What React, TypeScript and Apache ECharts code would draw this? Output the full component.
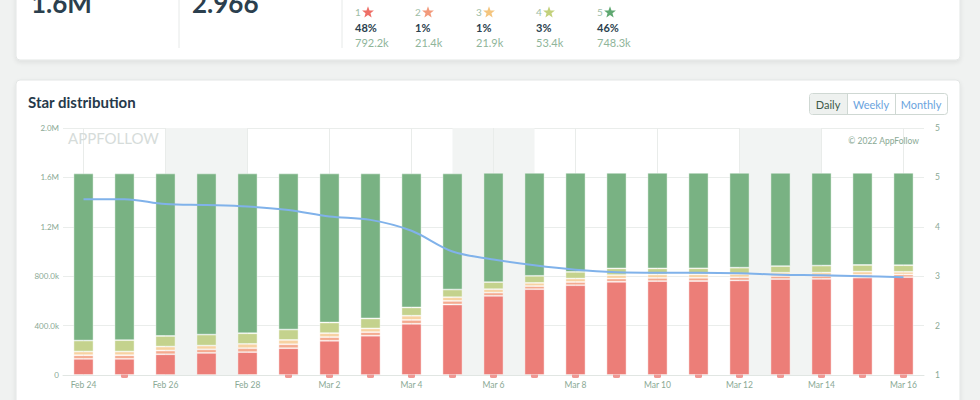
import React, { useEffect, useRef } from "react";
import * as echarts from "echarts";

const categories = [
  "Feb 24", "Feb 25", "Feb 26", "Feb 27", "Feb 28", "Mar 1", "Mar 2", "Mar 3", "Mar 4", "Mar 5", "Mar 6",
  "Mar 7", "Mar 8", "Mar 9", "Mar 10", "Mar 11", "Mar 12", "Mar 13", "Mar 14", "Mar 15", "Mar 16",
];
// values in thousands of ratings
const star1 = [131, 131, 168, 179, 185, 217, 277, 318, 415, 571, 641, 695, 727, 755, 760, 761, 766, 777, 778, 788, 792.2];
const star2 = [29, 29, 30, 29, 32, 32, 30, 29, 31, 29, 26, 25, 26, 26, 26, 26, 25, 24, 24, 23, 21.4];
const star3 = [30, 30, 32, 30, 35, 35, 32, 30, 34, 30, 28, 26, 28, 28, 28, 28, 27, 27, 27, 26, 21.9];
const star4 = [89, 92, 86, 89, 86, 84, 86, 81, 67, 62, 57, 57, 54, 54, 49, 49, 51, 54, 57, 54, 53.4];
const star5 = [1353, 1350, 1316, 1305, 1294, 1264, 1207, 1174, 1085, 940, 885, 834, 802, 774, 774, 773, 768, 755, 751, 746, 748.3];
const avgRating = [4.56, 4.56, 4.46, 4.44, 4.41, 4.34, 4.21, 4.14, 3.92, 3.5, 3.34, 3.22, 3.13, 3.08, 3.07, 3.07, 3.06, 3.03, 3.02, 3.0, 2.98];

const weekendBands = [["Feb 26", "Feb 28"], ["Mar 5", "Mar 7"], ["Mar 12", "Mar 14"]];
const tabDays = ["Feb 25", "Mar 1", "Mar 2", "Mar 3", "Mar 4", "Mar 5", "Mar 6", "Mar 7", "Mar 8", "Mar 9", "Mar 10",
  "Mar 11", "Mar 12", "Mar 13", "Mar 14", "Mar 15", "Mar 16"];

const leftTickLabels = ["0", "400.0k", "800.0k", "1.2M", "1.6M", "2.0M"];
const rightTickLabels = ["1", "2", "3", "4", "5", "5"];

const totalText = "1.6M";
const ratingText = "2.966";
const starNames = ["1", "2", "3", "4", "5"];
const starPercents = ["48%", "1%", "1%", "3%", "46%"];
const starCounts = ["792.2k", "21.4k", "21.9k", "53.4k", "748.3k"];
const periodButtons = ["Daily", "Weekly", "Monthly"];

const seriesColors = ["#ec7e78", "#f4aa8f", "#f7d2a2", "#c4d28d", "#79b283"];
const starIconColors = ["#ee6f67", "#f29a7c", "#f4c57f", "#c3d17c", "#5fa871"];
const FONT = "Lato, 'Noto Sans', sans-serif";
const AXIS_COLOR = "#8aa995";

function starPoints(cx: number, cy: number, R: number, r: number) {
  const pts: number[][] = [];
  for (let i = 0; i < 10; i++) {
    const a = -Math.PI / 2 + (i * Math.PI) / 5;
    const rad = i % 2 === 0 ? R : r;
    pts.push([cx + rad * Math.cos(a), cy + rad * Math.sin(a)]);
  }
  return pts;
}

export default function App() {
  const ref = useRef<HTMLDivElement>(null);

  useEffect(() => {
    if (!ref.current) return;
    const chart = echarts.init(ref.current, null, { renderer: "svg" });

    const starColX = [355, 415, 476, 536, 597];
    const graphics: any[] = [
      {
        type: "rect", z: -10, silent: true,
        shape: { x: 16, y: -10, width: 944, height: 70, r: 4 },
        style: { fill: "#ffffff", stroke: "#e3e6e5", lineWidth: 1, shadowBlur: 4, shadowOffsetY: 2, shadowColor: "rgba(0,0,0,0.08)" },
      },
      {
        type: "rect", z: -10, silent: true,
        shape: { x: 16, y: 80, width: 944, height: 340, r: 4 },
        style: { fill: "#ffffff", stroke: "#e3e6e5", lineWidth: 1, shadowBlur: 4, shadowOffsetY: 2, shadowColor: "rgba(0,0,0,0.08)" },
      },
      { type: "line", z: -5, shape: { x1: 179, y1: 0, x2: 179, y2: 48 }, style: { stroke: "#e6e9e8", lineWidth: 1 } },
      { type: "line", z: -5, shape: { x1: 342, y1: 0, x2: 342, y2: 48 }, style: { stroke: "#e6e9e8", lineWidth: 1 } },
      {
        type: "text", z: 10, x: 31, y: 3,
        style: { text: totalText, fontFamily: FONT, fontSize: 26, fontWeight: "bold", fill: "#2b3f4e", verticalAlign: "middle" },
      },
      {
        type: "text", z: 10, x: 192, y: 3,
        style: { text: ratingText, fontFamily: FONT, fontSize: 26, fontWeight: "bold", fill: "#2b3f4e", verticalAlign: "middle" },
      },
      {
        type: "text", z: 10, x: 28, y: 102,
        style: { text: "Star distribution", fontFamily: FONT, fontSize: 15, fontWeight: "bold", fill: "#26394a", verticalAlign: "middle" },
      },
      {
        type: "text", z: 3, x: 68, y: 138,
        style: { text: "APPFOLLOW", fontFamily: FONT, fontSize: 15, fill: "#d6dcda", verticalAlign: "middle" },
      },
      {
        type: "text", z: 3, x: 919, y: 141,
        style: { text: "© 2022 AppFollow", fontFamily: FONT, fontSize: 8.5, fill: AXIS_COLOR, align: "right", verticalAlign: "middle" },
      },
      // period buttons
      {
        type: "rect", z: 5, shape: { x: 809.5, y: 93.5, width: 138, height: 21, r: 3 },
        style: { fill: "#ffffff", stroke: "#cfd8d3", lineWidth: 1 },
      },
      {
        type: "rect", z: 6, shape: { x: 810, y: 94, width: 37, height: 20, r: [3, 0, 0, 3] },
        style: { fill: "#eef1ef" },
      },
      { type: "line", z: 7, shape: { x1: 847.5, y1: 94, x2: 847.5, y2: 114 }, style: { stroke: "#cfd8d3", lineWidth: 1 } },
      { type: "line", z: 7, shape: { x1: 895.5, y1: 94, x2: 895.5, y2: 114 }, style: { stroke: "#cfd8d3", lineWidth: 1 } },
    ];
    const btnCenters = [828, 871, 921];
    periodButtons.forEach((b, i) => {
      graphics.push({
        type: "text", z: 8, x: btnCenters[i], y: 104,
        style: { text: b, fontFamily: FONT, fontSize: 11, fill: i === 0 ? "#3e5a49" : "#6aa4de", align: "center", verticalAlign: "middle" },
      });
    });
    starNames.forEach((s, i) => {
      const x = starColX[i];
      graphics.push({
        type: "text", z: 10, x, y: 12,
        style: { text: s, fontFamily: FONT, fontSize: 10, fill: "#9dbda6", verticalAlign: "middle" },
      });
      graphics.push({
        type: "polygon", z: 10,
        shape: { points: starPoints(x + 13, 12.5, 6.2, 2.6) },
        style: { fill: starIconColors[i] },
      });
      graphics.push({
        type: "text", z: 10, x, y: 27,
        style: { text: starPercents[i], fontFamily: FONT, fontSize: 11, fontWeight: "bold", fill: "#2b3f4e", verticalAlign: "middle" },
      });
      graphics.push({
        type: "text", z: 10, x, y: 42,
        style: { text: starCounts[i], fontFamily: FONT, fontSize: 11, fill: "#8fb59a", verticalAlign: "middle" },
      });
    });

    const starSeries = [star1, star2, star3, star4, star5];
    const barSeries = starSeries.map((d, i) => ({
      name: `${i + 1} star`,
      type: "bar",
      stack: "total",
      barWidth: 20,
      z: 2,
      data: d,
      itemStyle: { color: seriesColors[i], borderColor: "rgba(255,255,255,0.55)", borderWidth: 0.8 },
      silent: true,
    }));

    const option: any = {
      animation: false,
      backgroundColor: "#f0f2f1",
      textStyle: { fontFamily: FONT },
      graphic: graphics,
      grid: { left: 63, right: 56, top: 128, bottom: 25, containLabel: false },
      xAxis: {
        type: "category",
        data: categories,
        boundaryGap: true,
        axisTick: { show: false },
        axisLine: { lineStyle: { color: "#e1e6e3", width: 1 } },
        axisLabel: { interval: 1, color: AXIS_COLOR, fontSize: 8.5, margin: 5, fontFamily: FONT },
        splitLine: { show: false },
      },
      yAxis: [
        {
          type: "value",
          min: 0,
          max: 2000,
          interval: 400,
          axisLine: { show: false },
          axisTick: { show: false },
          axisLabel: {
            color: AXIS_COLOR, fontSize: 8, margin: 4, fontFamily: FONT,
            formatter: (v: number) => leftTickLabels[Math.round(v / 400)] ?? "",
          },
          splitLine: { lineStyle: { color: "#eaedeb", width: 1 } },
        },
        {
          type: "value",
          min: 1,
          max: 6,
          interval: 1,
          axisLine: { show: false },
          axisTick: { show: false },
          axisLabel: {
            color: AXIS_COLOR, fontSize: 8.5, margin: 11, fontFamily: FONT,
            formatter: (v: number) => rightTickLabels[Math.round(v) - 1] ?? "",
          },
          splitLine: { show: false },
        },
      ],
      series: [
        {
          name: "bands",
          type: "line",
          data: [],
          z: 1,
          silent: true,
          markArea: {
            silent: true,
            z: 1,
            itemStyle: { color: "#f2f4f3" },
            label: { show: false },
            data: weekendBands.map(([a, b]) => [{ xAxis: a }, { xAxis: b }]),
          },
          markLine: {
            silent: true,
            z: 1,
            symbol: "none",
            label: { show: false },
            lineStyle: { color: "#e9ecea", type: "solid", width: 1 },
            data: categories.filter((_, i) => i % 2 === 0).map((c) => ({ xAxis: c })),
          },
        },
        {
          name: "tabs",
          type: "scatter",
          z: 1,
          silent: true,
          symbol: "roundRect",
          symbolSize: [7, 6],
          itemStyle: { color: seriesColors[0] },
          data: tabDays.map((d) => [d, 0]),
        },
        ...barSeries,
        {
          name: "Average rating",
          type: "line",
          yAxisIndex: 1,
          smooth: 0.35,
          symbol: "none",
          z: 5,
          silent: true,
          lineStyle: { color: "#80b2ea", width: 2 },
          data: avgRating,
        },
      ],
    };
    chart.setOption(option);
    return () => chart.dispose();
  }, []);

  return (
    <div style={{ position: "fixed", left: 0, top: 0, width: 980, height: 400, overflow: "hidden" }}>
      <div ref={ref} style={{ width: 980, height: 400 }} />
    </div>
  );
}
